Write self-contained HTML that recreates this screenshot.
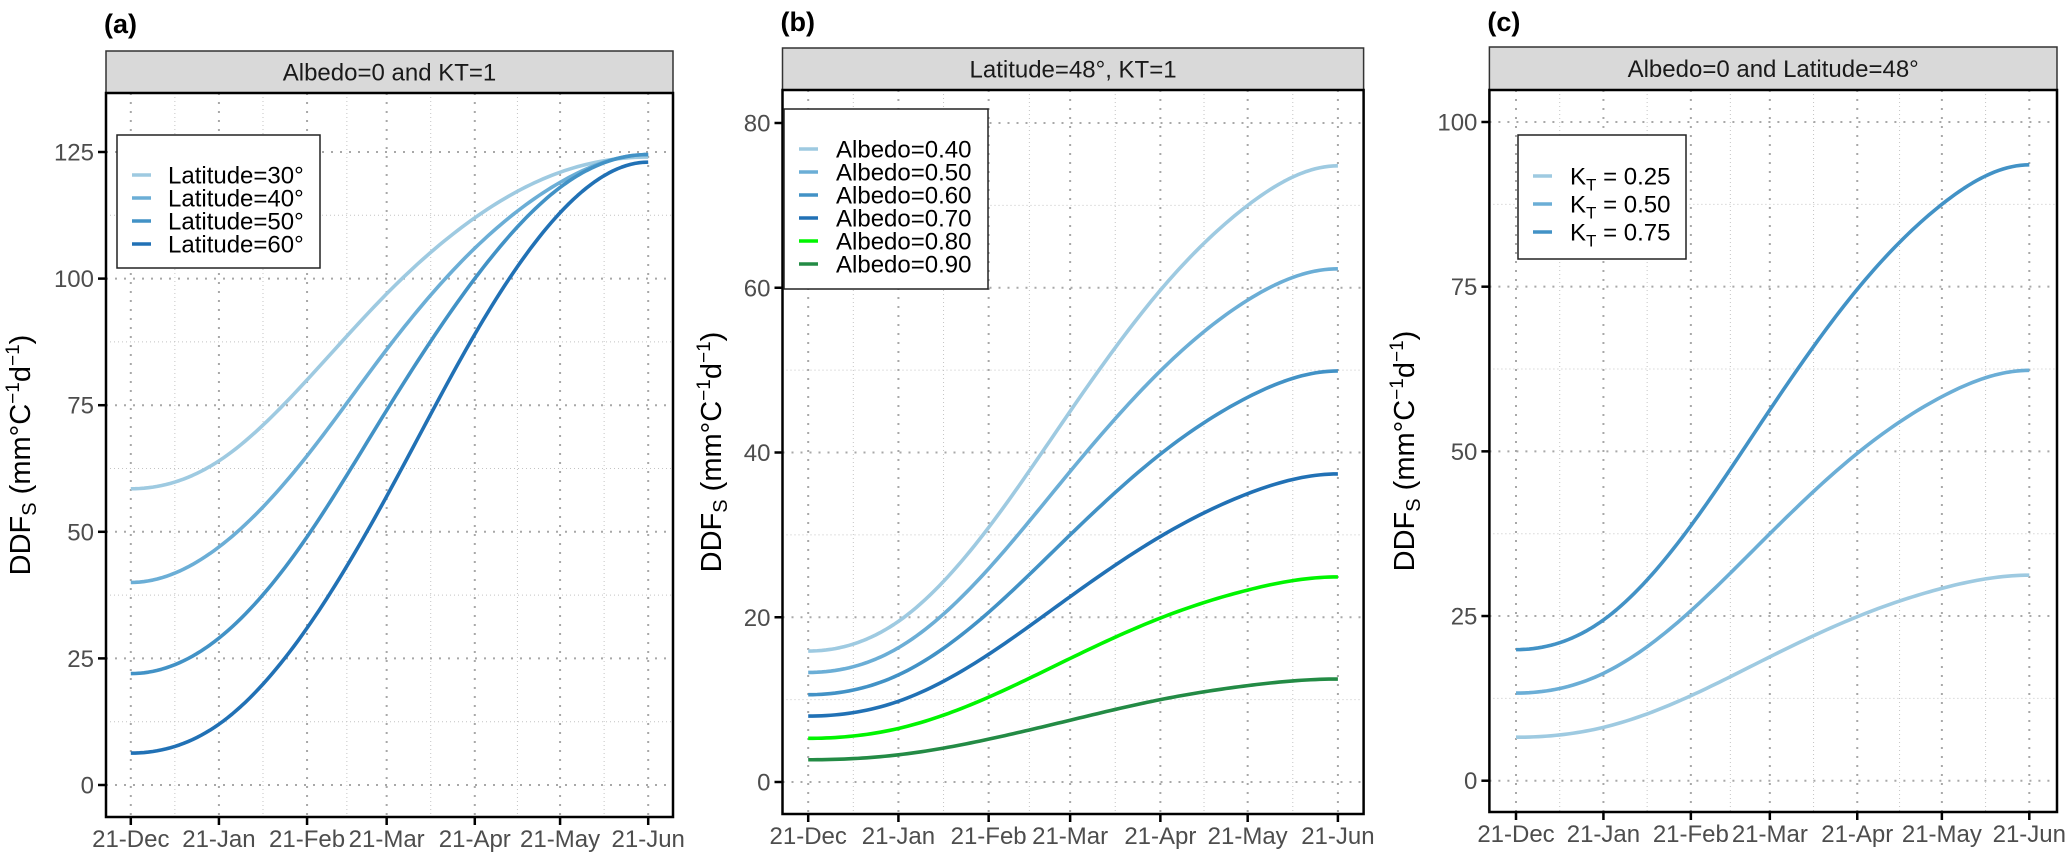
<!DOCTYPE html>
<html><head><meta charset="utf-8">
<style>
html,body{margin:0;padding:0;background:#fff;}
svg{display:block;font-family:"Liberation Sans",Arial,sans-serif;}
</style></head>
<body>
<svg id="chart" width="2067" height="856" viewBox="0 0 2067 856" xmlns="http://www.w3.org/2000/svg"></svg>
<script>
// ---------- data ----------
const dateLabels = ['21-Dec','21-Jan','21-Feb','21-Mar','21-Apr','21-May','21-Jun'];
const dateDays = [0,31,62,90,121,151,182];

const ticksA = [0,25,50,75,100,125];
const ticksB = [0,20,40,60,80];
const ticksC = [0,25,50,75,100];

const namesA = ['Latitude=30°','Latitude=40°','Latitude=50°','Latitude=60°'];
const lat30 = [58.5,64,80,97,112,121,124];
const lat40 = [40,47,65,86,106,119,124.5];
const lat50 = [22,29,49,74,100,118,124.5];
const lat60 = [6.3,12,31,57,89,113,123];

const namesB = ['Albedo=0.40','Albedo=0.50','Albedo=0.60','Albedo=0.70','Albedo=0.80','Albedo=0.90'];
const alb40 = [15.9,19.5,30.9,45.0,59.7,70.0,74.8];
const alb50 = [13.3,16.3,25.9,37.7,49.9,58.5,62.3];
const alb60 = [10.6,13.0,20.6,30.0,39.8,46.7,49.9];
const alb70 = [8.0,9.8,15.5,22.5,29.8,35.0,37.4];
const alb80 = [5.3,6.5,10.3,15.0,19.9,23.3,24.9];
const alb90 = [2.7,3.3,5.2,7.5,10.0,11.7,12.5];

const namesC = ['0.25','0.50','0.75'];
const kt25 = [6.6,8.1,12.9,18.8,24.9,29.2,31.2];
const kt50 = [13.3,16.3,25.8,37.5,49.7,58.3,62.3];
const kt75 = [19.9,24.4,38.7,56.3,74.6,87.5,93.5];

// ---------- layout ----------
const NS = 'http://www.w3.org/2000/svg';
const svg = document.getElementById('chart');
function mk(tag, attrs, parent){
  const e = document.createElementNS(NS, tag);
  for (const k in attrs) e.setAttribute(k, attrs[k]);
  (parent||svg).appendChild(e);
  return e;
}
const colorsBlue = ['#9ecae1','#6baed6','#4292c6','#2171b5'];
const colorsB = ['#9ecae1','#6baed6','#4292c6','#2171b5','#00f500','#238b45'];

// clamped cubic spline (zero end slopes), sampled as polyline
function curvePath(xs, ys){
  const n = xs.length, h = [], a = [], l = [], mu = [], z = [], c = new Array(n).fill(0), b = [], d = [];
  for (let i=0;i<n-1;i++) h.push(xs[i+1]-xs[i]);
  a[0] = 3*(ys[1]-ys[0])/h[0];
  a[n-1] = -3*(ys[n-1]-ys[n-2])/h[n-2];
  for (let i=1;i<n-1;i++) a[i] = 3/h[i]*(ys[i+1]-ys[i]) - 3/h[i-1]*(ys[i]-ys[i-1]);
  l[0]=2*h[0]; mu[0]=0.5; z[0]=a[0]/l[0];
  for (let i=1;i<n-1;i++){
    l[i]=2*(xs[i+1]-xs[i-1]) - h[i-1]*mu[i-1];
    mu[i]=h[i]/l[i];
    z[i]=(a[i]-h[i-1]*z[i-1])/l[i];
  }
  l[n-1]=h[n-2]*(2-mu[n-2]);
  z[n-1]=(a[n-1]-h[n-2]*z[n-2])/l[n-1];
  c[n-1]=z[n-1];
  for (let j=n-2;j>=0;j--){
    c[j]=z[j]-mu[j]*c[j+1];
    b[j]=(ys[j+1]-ys[j])/h[j] - h[j]*(c[j+1]+2*c[j])/3;
    d[j]=(c[j+1]-c[j])/(3*h[j]);
  }
  let p = '';
  for (let i=0;i<n-1;i++){
    const steps = 20;
    for (let s=0;s<=steps;s++){
      if (i>0 && s===0) continue;
      const t = h[i]*s/steps;
      const y = ys[i]+b[i]*t+c[i]*t*t+d[i]*t*t*t;
      p += (p?' L':'M') + (xs[i]+t).toFixed(2)+','+y.toFixed(2);
    }
  }
  return p;
}

function panel(cfg){
  const g = mk('g', { });
  const xScale = d => cfg.x0 + (d - dateDays[0])/(dateDays[dateDays.length-1]-dateDays[0])*(cfg.x1-cfg.x0);
  const yScale = v => cfg.yZero - (v - cfg.v0)*(cfg.yZero - cfg.yTopTick)/(cfg.v1 - cfg.v0);
  const top = cfg.stripBot, bot = cfg.plotBot, L = cfg.L, R = cfg.R;
  const pl = mk('text', {x:L-2, y:cfg.labelY, 'font-size':27, 'font-weight':'bold', fill:'#000'}, g);
  
  
  pl.textContent = cfg.label;
  const grid = mk('g', {}, g);
  
  
  const ticks = cfg.ticks;
  const step = ticks[1]-ticks[0];
  for (let i=0;i<ticks.length;i++){
    [ticks[i]-step/2, ticks[i]+step/2].forEach((v,j)=>{
      if (j===0 && i>0) return;
      const y = yScale(v);
      if (y>top+2 && y<bot-2) mk('line',{x1:L,x2:R,y1:y,y2:y,stroke:'#c4c4c4','stroke-width':1,'stroke-dasharray':'1 3'},grid);
    });
  }
  for (let i=0;i<dateDays.length-1;i++){
    const x = xScale((dateDays[i]+dateDays[i+1])/2);
    mk('line',{x1:x,x2:x,y1:top,y2:bot,stroke:'#c4c4c4','stroke-width':1,'stroke-dasharray':'1 3'},grid);
  }
  ticks.forEach(v=>{
    const y = yScale(v);
    mk('line',{x1:L,x2:R,y1:y,y2:y,stroke:'#a8a8a8','stroke-width':2,'stroke-dasharray':'2 7'},grid);
  });
  dateDays.forEach(d=>{
    const x = xScale(d);
    mk('line',{x1:x,x2:x,y1:top,y2:bot,stroke:'#a8a8a8','stroke-width':2,'stroke-dasharray':'2 7'},grid);
  });
  cfg.series.forEach((s,i)=>{
    const xs = dateDays.map(xScale), ys = s.map(yScale);
    const p = mk('path',{d:curvePath(xs,ys),fill:'none',stroke:cfg.colors[i],'stroke-width':3.6,'stroke-linejoin':'round'},g);
    
    
  });
  const st = mk('rect',{x:L,y:cfg.stripTop,width:R-L,height:cfg.stripBot-cfg.stripTop,fill:'#d9d9d9',stroke:'#333','stroke-width':1.5},g);
  
  
  const stt = mk('text',{x:(L+R)/2,y:(cfg.stripTop+cfg.stripBot)/2+8.5,'font-size':24,'text-anchor':'middle',fill:'#1a1a1a'},g);
  
  
  stt.textContent = cfg.title;
  const fr = mk('rect',{x:L,y:top,width:R-L,height:bot-top,fill:'none',stroke:'#000','stroke-width':2.5},g);
  
  
  ticks.forEach(v=>{
    const y = yScale(v);
    mk('line',{x1:L-8,x2:L,y1:y,y2:y,stroke:'#000','stroke-width':2.5},g);
    const t = mk('text',{x:L-12,y:y+8.5,'font-size':24,'text-anchor':'end',fill:'#4d4d4d'},g);
    
    
    t.textContent = v;
  });
  dateDays.forEach((d,i)=>{
    const x = xScale(d);
    mk('line',{x1:x,x2:x,y1:bot,y2:bot+8,stroke:'#000','stroke-width':2.5},g);
    const t = mk('text',{x:x,y:bot+30,'font-size':24,'text-anchor':'middle',fill:'#4d4d4d'},g);
    
    
    t.textContent = dateLabels[i];
  });
  const yt = mk('text',{x:0,y:0,'font-size':29,'text-anchor':'middle',fill:'#000',transform:'translate('+(cfg.titleX+10)+','+((top+bot)/2)+') rotate(-90)'},g);
  
  
  yt.innerHTML = 'DDF<tspan font-size="20" dy="6">S</tspan><tspan dy="-6"> (mm°C</tspan><tspan font-size="19" dy="-11">−1</tspan><tspan dy="11">d</tspan><tspan font-size="19" dy="-11">−1</tspan><tspan dy="11">)</tspan>';
  const lg = mk('g',{},g);
  
  
  const lb = cfg.legend;
  mk('rect',{x:lb.x,y:lb.y,width:lb.w,height:lb.h,fill:'#fff',stroke:'#222','stroke-width':1.5},lg);
  cfg.names.forEach((nm,i)=>{
    const y = lb.firstY + i*lb.dy;
    const it = mk('g',{},lg);
    
    
    mk('line',{x1:lb.keyX,x2:lb.keyX+19,y1:y,y2:y,stroke:cfg.colors[i],'stroke-width':3.6},it);
    const t = mk('text',{x:lb.textX,y:y+8.5,'font-size':24,fill:'#000'},it);
    if (cfg.kt) t.innerHTML = 'K<tspan font-size="17" dy="6">T</tspan><tspan dy="-6"> = '+nm+'</tspan>';
    else t.textContent = nm;
  });
}

panel({id:'panel-a',label:'(a)',labelY:33,title:'Albedo=0 and KT=1',
  L:106,R:673,stripTop:51,stripBot:93,plotBot:817,x0:130.8,x1:648.2,
  yZero:785,yTopTick:152,v0:0,v1:125,ticks:ticksA,titleX:20,
  series:[lat30,lat40,lat50,lat60],names:namesA,colors:colorsBlue,
  legend:{x:117,y:135,w:203,h:133,firstY:175,dy:23,keyX:132,textX:168}});

panel({id:'panel-b',label:'(b)',labelY:31,title:'Latitude=48°, KT=1',
  L:782.5,R:1363.6,stripTop:48,stripBot:90,plotBot:814,x0:808.2,x1:1337.9,
  yZero:782,yTopTick:123,v0:0,v1:80,ticks:ticksB,titleX:711,
  series:[alb40,alb50,alb60,alb70,alb80,alb90],names:namesB,colors:colorsB,
  legend:{x:784,y:109,w:204,h:180,firstY:149,dy:23,keyX:799,textX:836}});

panel({id:'panel-c',label:'(c)',labelY:31,title:'Albedo=0 and Latitude=48°',
  L:1489.4,R:2057,stripTop:47,stripBot:90,plotBot:812,x0:1516,x1:2029.3,
  yZero:780.7,yTopTick:122,v0:0,v1:100,ticks:ticksC,titleX:1404,kt:true,
  series:[kt25,kt50,kt75],names:namesC,colors:['#9ecae1','#6baed6','#4292c6'],
  legend:{x:1518,y:135,w:168,h:124,firstY:176,dy:28,keyX:1533,textX:1570}});
</script>
</body></html>
